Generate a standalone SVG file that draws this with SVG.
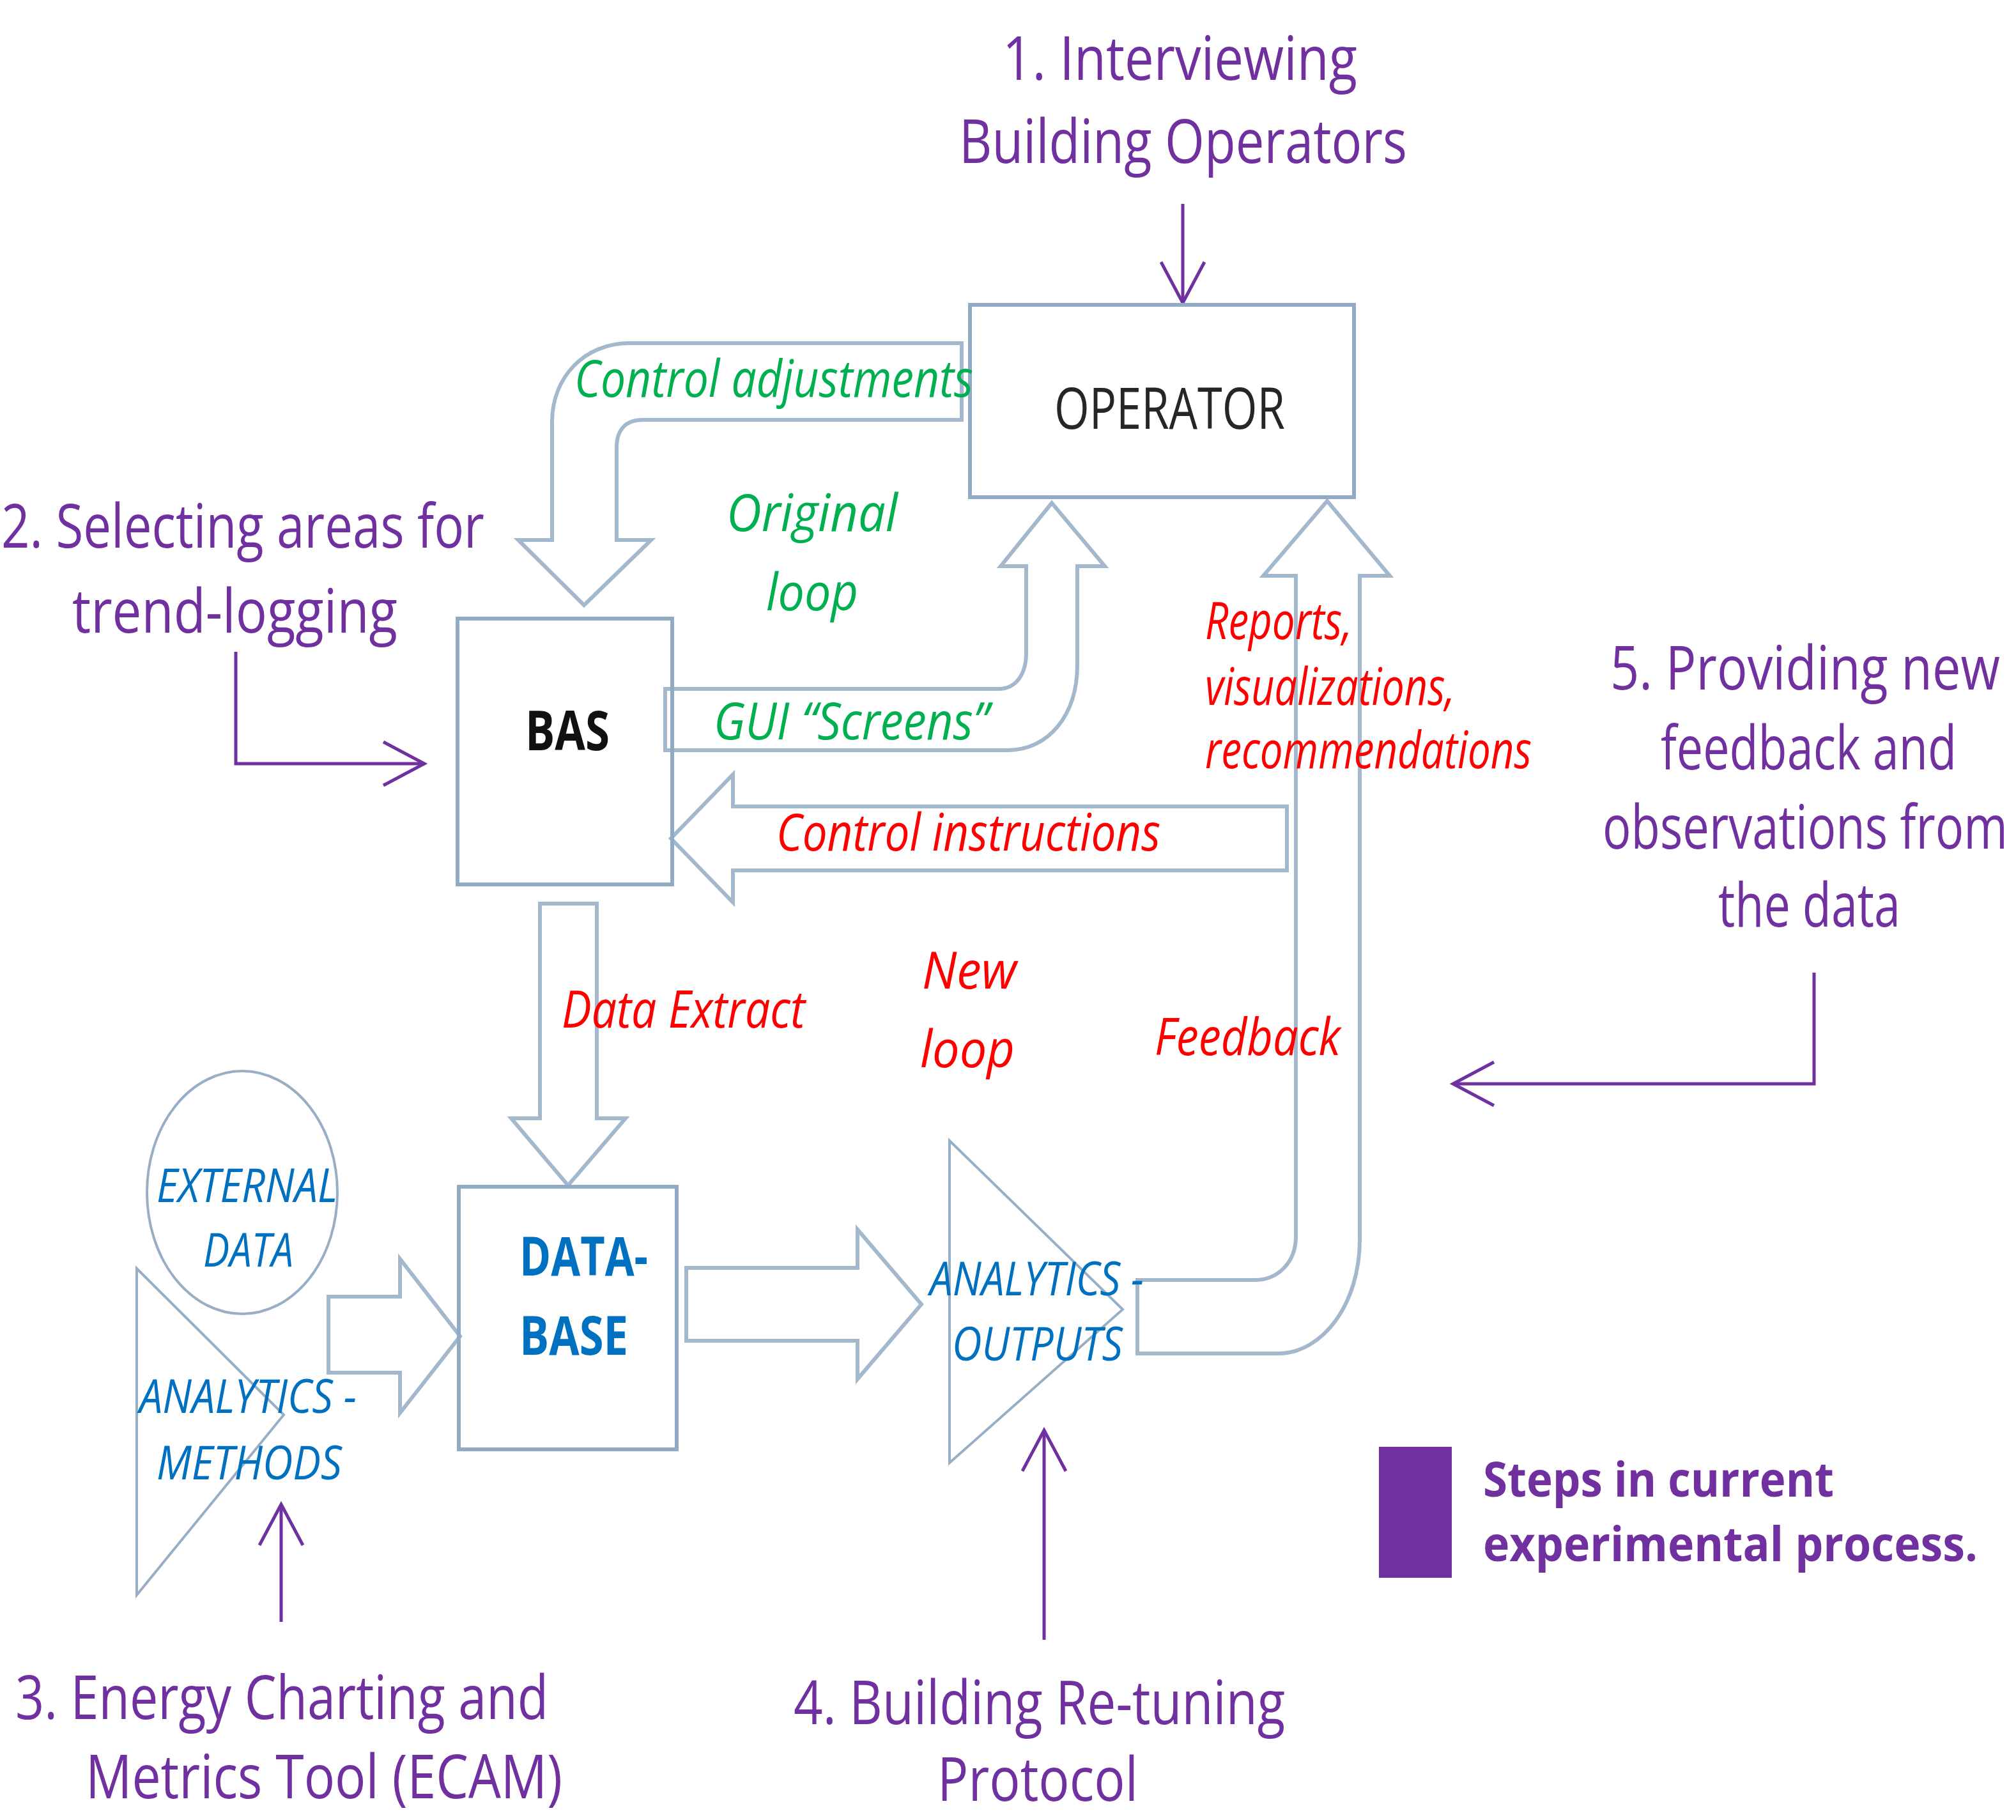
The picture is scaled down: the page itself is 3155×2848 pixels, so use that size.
<svg xmlns="http://www.w3.org/2000/svg" width="3155" height="2848" viewBox="0 0 3155 2848">
<style>
.bg{fill:#ffffff}
.blk{fill:none;stroke:#A3B8CD;stroke-width:6;stroke-linejoin:miter}
.box{fill:none;stroke:#92ABC5;stroke-width:6}
.thin{fill:none;stroke:#98AEC4;stroke-width:4}
.pl{fill:none;stroke:#7030A0;stroke-width:5}
text{font-family:"Open Sans","Liberation Sans",sans-serif}
.step{font-size:95px;fill:#7030A0}
.green{font-size:80px;fill:#00B050;font-style:italic}
.red{font-size:80px;fill:#FF0000;font-style:italic}
.blue{font-size:74px;fill:#0070C0;font-style:italic}
.node{font-size:90px;fill:#262626}
.nodeb{font-size:86px;font-weight:bold;fill:#111111}
.db{font-size:84px;font-weight:bold;fill:#0070C0}
.legend{font-size:76px;font-weight:bold;fill:#7030A0}
.end{text-anchor:end}
</style>
<defs>
<marker id="ah" markerUnits="userSpaceOnUse" viewBox="-6 -6 82 82" markerWidth="82" markerHeight="82" refX="64" refY="34" orient="auto" overflow="visible">
<path d="M 0 0 L 64 34 L 0 68" fill="none" stroke="#7030A0" stroke-width="5"/>
</marker>
</defs>
<rect class="bg" x="0" y="0" width="3155" height="2848"/>

<g id="connectors">
<path id="c-control-adjustments" class="blk" d="M 1505 537 L 985 537 C 915 537 864 590 864 660 L 864 845 L 811 845 L 914 947 L 1019 845 L 965 845 L 965 700 C 965 672 980 657 1005 657 L 1505 657 Z"/>
<path id="c-gui-screens" class="blk" d="M 1041 1078 L 1563 1078 C 1590 1078 1606 1055 1606 1021 L 1606 886 L 1566 886 L 1646 787 L 1729 886 L 1686 886 L 1686 1040 C 1686 1120 1640 1174 1577 1174 L 1041 1174 Z"/>
<path id="c-control-instructions" class="blk" d="M 2014 1262 L 1147 1262 L 1147 1212 L 1050 1312 L 1147 1412 L 1147 1362 L 2014 1362 Z"/>
<path id="c-data-extract" class="blk" d="M 845 1414 L 934 1414 L 934 1750 L 979 1750 L 889 1855 L 800 1750 L 845 1750 Z"/>
<path id="c-feedback" class="blk" d="M 1780 2003 L 1964 2003 C 2000 2003 2028 1975 2028 1935 L 2028 901 L 1977 901 L 2077 784 L 2175 901 L 2128 901 L 2128 1940 C 2128 2040 2070 2118 2000 2118 L 1780 2118 Z"/>
<path id="c-db-outputs" class="blk" d="M 1074 1984 L 1342 1984 L 1342 1924 L 1442 2041 L 1342 2158 L 1342 2098 L 1074 2098 Z"/>
<path id="c-methods-db" class="blk" d="M 514 2029 L 626 2029 L 626 1970 L 720 2091 L 626 2211 L 626 2148 L 514 2148 Z"/>
<path id="c-step1" class="pl" d="M 1851 319 L 1851 474" marker-end="url(#ah)"/>
<path id="c-step2" class="pl" d="M 369 1020 L 369 1195 L 664 1195" marker-end="url(#ah)"/>
<path id="c-step3" class="pl" d="M 440 2538 L 440 2354" marker-end="url(#ah)"/>
<path id="c-step4" class="pl" d="M 1634 2566 L 1634 2238" marker-end="url(#ah)"/>
<path id="c-step5" class="pl" d="M 2839 1522 L 2839 1696 L 2274 1696" marker-end="url(#ah)"/>
</g>

<g id="node-operator">
<rect class="box" x="1518" y="477" width="601" height="301"/>
<text class="node" x="1650" y="671" textLength="361" lengthAdjust="spacingAndGlyphs">OPERATOR</text>
</g>
<g id="node-bas">
<rect class="box" x="716" y="968" width="336" height="416"/>
<text class="nodeb" x="822" y="1174" textLength="132" lengthAdjust="spacingAndGlyphs">BAS</text>
</g>
<g id="node-database">
<rect class="box" x="718" y="1857" width="341" height="411"/>
<text class="db" x="813" y="1996" textLength="201" lengthAdjust="spacingAndGlyphs">DATA-</text>
<text class="db" x="813" y="2120" textLength="170" lengthAdjust="spacingAndGlyphs">BASE</text>
</g>
<g id="node-external-data">
<ellipse class="thin" cx="379" cy="1866" rx="149" ry="190"/>
<text class="blue" x="245" y="1881" textLength="283" lengthAdjust="spacingAndGlyphs">EXTERNAL</text>
<text class="blue" x="318" y="1982" textLength="141" lengthAdjust="spacingAndGlyphs">DATA</text>
</g>
<g id="node-analytics-methods">
<path class="thin" d="M 214 1985 L 444 2214 L 214 2496 Z"/>
<text class="blue" x="218" y="2211" textLength="340" lengthAdjust="spacingAndGlyphs">ANALYTICS -</text>
<text class="blue" x="245" y="2315" textLength="290" lengthAdjust="spacingAndGlyphs">METHODS</text>
</g>
<g id="node-analytics-outputs">
<path class="thin" d="M 1486 1785 L 1757 2049 L 1486 2289 Z"/>
<text class="blue" x="1455" y="2027" textLength="335" lengthAdjust="spacingAndGlyphs">ANALYTICS -</text>
<text class="blue" x="1490" y="2129" textLength="267" lengthAdjust="spacingAndGlyphs">OUTPUTS</text>
</g>

<g id="labels-loops">
<text class="green" x="899" y="621" textLength="624" lengthAdjust="spacingAndGlyphs">Control adjustments</text>
<text class="green" x="1137" y="831" font-size="92" textLength="268" lengthAdjust="spacingAndGlyphs">Original</text>
<text class="green" x="1199" y="955" font-size="92" textLength="144" lengthAdjust="spacingAndGlyphs">loop</text>
<text class="green" x="1117" y="1157" font-size="84" textLength="431" lengthAdjust="spacingAndGlyphs">GUI “Screens”</text>
<text class="red" x="1886" y="1000" textLength="230" lengthAdjust="spacingAndGlyphs">Reports,</text>
<text class="red" x="1886" y="1103" textLength="391" lengthAdjust="spacingAndGlyphs">visualizations,</text>
<text class="red" x="1886" y="1202" textLength="511" lengthAdjust="spacingAndGlyphs">recommendations</text>
<text class="red" x="1215" y="1331" textLength="601" lengthAdjust="spacingAndGlyphs">Control instructions</text>
<text class="red" x="879" y="1608" textLength="381" lengthAdjust="spacingAndGlyphs">Data Extract</text>
<text class="red" x="1443" y="1547" font-size="90" textLength="148" lengthAdjust="spacingAndGlyphs">New</text>
<text class="red" x="1440" y="1670" font-size="90" textLength="148" lengthAdjust="spacingAndGlyphs">loop</text>
<text class="red" x="1807" y="1651" textLength="291" lengthAdjust="spacingAndGlyphs">Feedback</text>
</g>

<g id="step-1">
<text class="step" x="1569" y="125" textLength="555" lengthAdjust="spacingAndGlyphs">1. Interviewing</text>
<text class="step" x="1501" y="255" textLength="701" lengthAdjust="spacingAndGlyphs">Building Operators</text>
</g>
<g id="step-2">
<text class="step" x="2" y="857" textLength="756" lengthAdjust="spacingAndGlyphs">2. Selecting areas for</text>
<text class="step" x="113" y="990" textLength="509" lengthAdjust="spacingAndGlyphs">trend-logging</text>
</g>
<g id="step-3">
<text class="step" x="24" y="2690" textLength="834" lengthAdjust="spacingAndGlyphs">3. Energy Charting and</text>
<text class="step" x="134" y="2814" textLength="746" lengthAdjust="spacingAndGlyphs">Metrics Tool (ECAM)</text>
</g>
<g id="step-4">
<text class="step" x="1242" y="2698" textLength="769" lengthAdjust="spacingAndGlyphs">4. Building Re-tuning</text>
<text class="step" x="1467" y="2818" textLength="314" lengthAdjust="spacingAndGlyphs">Protocol</text>
</g>
<g id="step-5">
<text class="step end" x="3130" y="1079" textLength="610" lengthAdjust="spacingAndGlyphs">5. Providing new</text>
<text class="step end" x="3062" y="1204" textLength="463" lengthAdjust="spacingAndGlyphs">feedback and</text>
<text class="step end" x="3142" y="1328" textLength="634" lengthAdjust="spacingAndGlyphs">observations from</text>
<text class="step end" x="2974" y="1450" textLength="285" lengthAdjust="spacingAndGlyphs">the data</text>
</g>

<g id="legend">
<rect x="2158" y="2264" width="114" height="205" fill="#7030A0"/>
<text class="legend end" x="2870" y="2342" textLength="549" lengthAdjust="spacingAndGlyphs">Steps in current</text>
<text class="legend end" x="3095" y="2443" textLength="774" lengthAdjust="spacingAndGlyphs">experimental process.</text>
</g>
</svg>
